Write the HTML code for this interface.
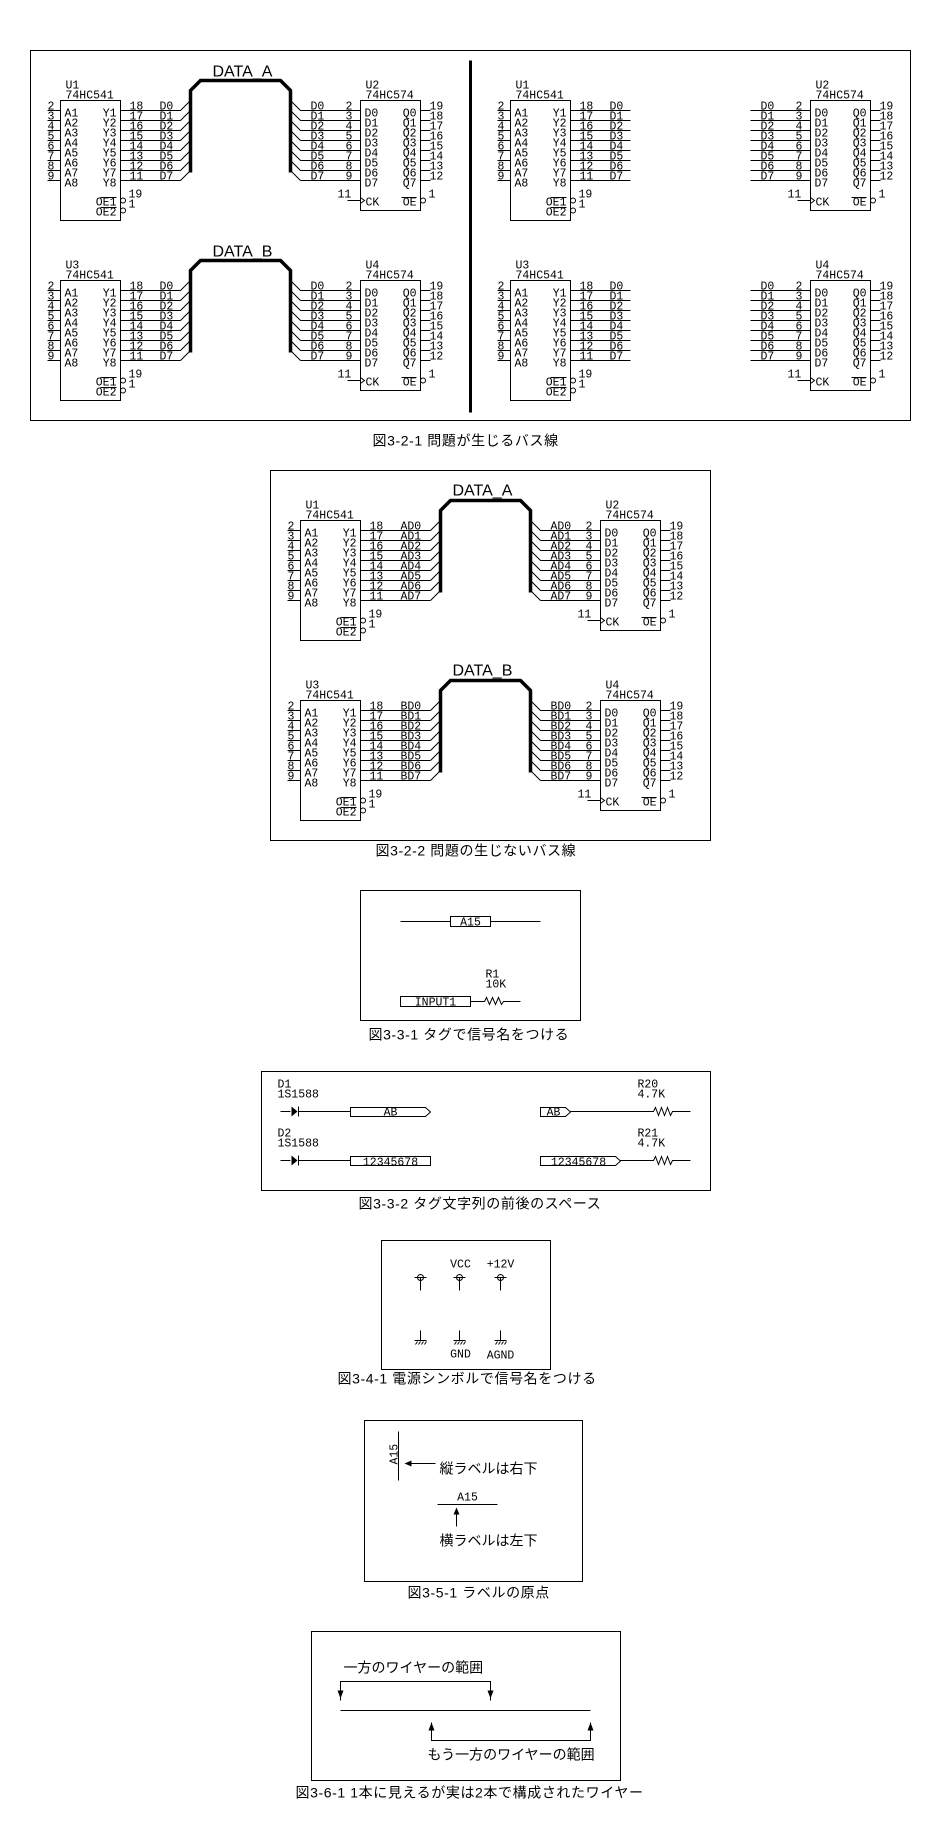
<!DOCTYPE html>
<html><head><meta charset="utf-8"><style>
html,body{margin:0;padding:0;background:#fff}
svg{display:block}
svg text{font-family:"Liberation Mono",monospace;font-size:11.5px;fill:#000;stroke:none}
.s{fill:none;stroke:#000;stroke-width:1}
.b{fill:none;stroke:#000;stroke-width:3.5}
.f{fill:#000;stroke:none}
.e{text-anchor:end}
.m{text-anchor:middle}
svg text.big{font-family:"Liberation Sans",sans-serif;font-size:16px}
svg text.cap{font-family:"Liberation Sans","Noto Sans CJK JP",sans-serif;font-size:14px;letter-spacing:0.6px}
svg text.jp{font-family:"Liberation Sans","Noto Sans CJK JP",sans-serif;font-size:14px}
</style></head><body>
<svg width="940" height="1838" viewBox="0 0 940 1838" xmlns="http://www.w3.org/2000/svg">
<g transform="translate(0.5,0.5)">

<!-- ============ FIG 3-2-1 ============ -->
<rect class="s" x="30" y="50" width="880" height="370"/>
<path d="M470 60V412" stroke="#000" stroke-width="3"/>
<text class="big" x="212" y="76">DATA_A</text>
<text class="big" x="212" y="256">DATA_B</text>
<path class="b" d="M190 172V90L200 80H280L290 90V172"/>
<path class="b" d="M190 352V270L200 260H280L290 270V352"/>

<g transform="translate(60,100)">
<rect class="s" x="0" y="0" width="60" height="120"/>
<text x="5" y="-12">U1</text><text x="5" y="-2">74HC541</text>
<path class="s" d="M-13 10H0M-13 20H0M-13 30H0M-13 40H0M-13 50H0M-13 60H0M-13 70H0M-13 80H0"/>
<text x="-13" y="9">2</text><text x="-13" y="19">3</text><text x="-13" y="29">4</text><text x="-13" y="39">5</text><text x="-13" y="49">6</text><text x="-13" y="59">7</text><text x="-13" y="69">8</text><text x="-13" y="79">9</text>
<text x="4" y="16">A1</text><text x="4" y="26">A2</text><text x="4" y="36">A3</text><text x="4" y="46">A4</text><text x="4" y="56">A5</text><text x="4" y="66">A6</text><text x="4" y="76">A7</text><text x="4" y="86">A8</text>
<g class="e"><text x="56" y="16">Y1</text><text x="56" y="26">Y2</text><text x="56" y="36">Y3</text><text x="56" y="46">Y4</text><text x="56" y="56">Y5</text><text x="56" y="66">Y6</text><text x="56" y="76">Y7</text><text x="56" y="86">Y8</text><text x="56" y="105">OE1</text><text x="56" y="115">OE2</text></g>
<path class="s" d="M40 97H56M40 107H56"/>
<circle class="s" cx="62.5" cy="100" r="2.5"/><circle class="s" cx="62.5" cy="110" r="2.5"/>
<text x="68" y="97">19</text><text x="68" y="107">1</text>
<path class="s" d="M60 10H120M60 20H120M60 30H120M60 40H120M60 50H120M60 60H120M60 70H120M60 80H120"/>
<path class="s" d="M120 10L130 0M120 20L130 10M120 30L130 20M120 40L130 30M120 50L130 40M120 60L130 50M120 70L130 60M120 80L130 70"/>
<text x="69" y="9">18</text><text x="69" y="19">17</text><text x="69" y="29">16</text><text x="69" y="39">15</text><text x="69" y="49">14</text><text x="69" y="59">13</text><text x="69" y="69">12</text><text x="69" y="79">11</text>
<text x="99" y="9">D0</text><text x="99" y="19">D1</text><text x="99" y="29">D2</text><text x="99" y="39">D3</text><text x="99" y="49">D4</text><text x="99" y="59">D5</text><text x="99" y="69">D6</text><text x="99" y="79">D7</text>
</g>
<g transform="translate(60,280)">
<rect class="s" x="0" y="0" width="60" height="120"/>
<text x="5" y="-12">U3</text><text x="5" y="-2">74HC541</text>
<path class="s" d="M-13 10H0M-13 20H0M-13 30H0M-13 40H0M-13 50H0M-13 60H0M-13 70H0M-13 80H0"/>
<text x="-13" y="9">2</text><text x="-13" y="19">3</text><text x="-13" y="29">4</text><text x="-13" y="39">5</text><text x="-13" y="49">6</text><text x="-13" y="59">7</text><text x="-13" y="69">8</text><text x="-13" y="79">9</text>
<text x="4" y="16">A1</text><text x="4" y="26">A2</text><text x="4" y="36">A3</text><text x="4" y="46">A4</text><text x="4" y="56">A5</text><text x="4" y="66">A6</text><text x="4" y="76">A7</text><text x="4" y="86">A8</text>
<g class="e"><text x="56" y="16">Y1</text><text x="56" y="26">Y2</text><text x="56" y="36">Y3</text><text x="56" y="46">Y4</text><text x="56" y="56">Y5</text><text x="56" y="66">Y6</text><text x="56" y="76">Y7</text><text x="56" y="86">Y8</text><text x="56" y="105">OE1</text><text x="56" y="115">OE2</text></g>
<path class="s" d="M40 97H56M40 107H56"/>
<circle class="s" cx="62.5" cy="100" r="2.5"/><circle class="s" cx="62.5" cy="110" r="2.5"/>
<text x="68" y="97">19</text><text x="68" y="107">1</text>
<path class="s" d="M60 10H120M60 20H120M60 30H120M60 40H120M60 50H120M60 60H120M60 70H120M60 80H120"/>
<path class="s" d="M120 10L130 0M120 20L130 10M120 30L130 20M120 40L130 30M120 50L130 40M120 60L130 50M120 70L130 60M120 80L130 70"/>
<text x="69" y="9">18</text><text x="69" y="19">17</text><text x="69" y="29">16</text><text x="69" y="39">15</text><text x="69" y="49">14</text><text x="69" y="59">13</text><text x="69" y="69">12</text><text x="69" y="79">11</text>
<text x="99" y="9">D0</text><text x="99" y="19">D1</text><text x="99" y="29">D2</text><text x="99" y="39">D3</text><text x="99" y="49">D4</text><text x="99" y="59">D5</text><text x="99" y="69">D6</text><text x="99" y="79">D7</text>
</g>
<g transform="translate(360,100)">
<rect class="s" x="0" y="0" width="60" height="110"/>
<text x="5" y="-12">U2</text><text x="5" y="-2">74HC574</text>
<path class="s" d="M-60 10H0M-60 20H0M-60 30H0M-60 40H0M-60 50H0M-60 60H0M-60 70H0M-60 80H0"/>
<path class="s" d="M-70 0L-60 10M-70 10L-60 20M-70 20L-60 30M-70 30L-60 40M-70 40L-60 50M-70 50L-60 60M-70 60L-60 70M-70 70L-60 80"/>
<text x="-50" y="9">D0</text><text x="-50" y="19">D1</text><text x="-50" y="29">D2</text><text x="-50" y="39">D3</text><text x="-50" y="49">D4</text><text x="-50" y="59">D5</text><text x="-50" y="69">D6</text><text x="-50" y="79">D7</text>
<text x="-15" y="9">2</text><text x="-15" y="19">3</text><text x="-15" y="29">4</text><text x="-15" y="39">5</text><text x="-15" y="49">6</text><text x="-15" y="59">7</text><text x="-15" y="69">8</text><text x="-15" y="79">9</text>
<text x="4" y="16">D0</text><text x="4" y="26">D1</text><text x="4" y="36">D2</text><text x="4" y="46">D3</text><text x="4" y="56">D4</text><text x="4" y="66">D5</text><text x="4" y="76">D6</text><text x="4" y="86">D7</text>
<g class="e"><text x="56" y="16">Q0</text><text x="56" y="26">Q1</text><text x="56" y="36">Q2</text><text x="56" y="46">Q3</text><text x="56" y="56">Q4</text><text x="56" y="66">Q5</text><text x="56" y="76">Q6</text><text x="56" y="86">Q7</text><text x="56" y="105">OE</text></g>
<path class="s" d="M60 10H70M60 20H70M60 30H70M60 40H70M60 50H70M60 60H70M60 70H70M60 80H70M41 97H56M-13 100H0M0 97L4 100L0 103"/>
<text x="69" y="9">19</text><text x="69" y="19">18</text><text x="69" y="29">17</text><text x="69" y="39">16</text><text x="69" y="49">15</text><text x="69" y="59">14</text><text x="69" y="69">13</text><text x="69" y="79">12</text>
<text x="5" y="105">CK</text><text x="-23" y="97">11</text>
<circle class="s" cx="62.5" cy="100" r="2.5"/><text x="68" y="97">1</text>
</g>
<g transform="translate(360,280)">
<rect class="s" x="0" y="0" width="60" height="110"/>
<text x="5" y="-12">U4</text><text x="5" y="-2">74HC574</text>
<path class="s" d="M-60 10H0M-60 20H0M-60 30H0M-60 40H0M-60 50H0M-60 60H0M-60 70H0M-60 80H0"/>
<path class="s" d="M-70 0L-60 10M-70 10L-60 20M-70 20L-60 30M-70 30L-60 40M-70 40L-60 50M-70 50L-60 60M-70 60L-60 70M-70 70L-60 80"/>
<text x="-50" y="9">D0</text><text x="-50" y="19">D1</text><text x="-50" y="29">D2</text><text x="-50" y="39">D3</text><text x="-50" y="49">D4</text><text x="-50" y="59">D5</text><text x="-50" y="69">D6</text><text x="-50" y="79">D7</text>
<text x="-15" y="9">2</text><text x="-15" y="19">3</text><text x="-15" y="29">4</text><text x="-15" y="39">5</text><text x="-15" y="49">6</text><text x="-15" y="59">7</text><text x="-15" y="69">8</text><text x="-15" y="79">9</text>
<text x="4" y="16">D0</text><text x="4" y="26">D1</text><text x="4" y="36">D2</text><text x="4" y="46">D3</text><text x="4" y="56">D4</text><text x="4" y="66">D5</text><text x="4" y="76">D6</text><text x="4" y="86">D7</text>
<g class="e"><text x="56" y="16">Q0</text><text x="56" y="26">Q1</text><text x="56" y="36">Q2</text><text x="56" y="46">Q3</text><text x="56" y="56">Q4</text><text x="56" y="66">Q5</text><text x="56" y="76">Q6</text><text x="56" y="86">Q7</text><text x="56" y="105">OE</text></g>
<path class="s" d="M60 10H70M60 20H70M60 30H70M60 40H70M60 50H70M60 60H70M60 70H70M60 80H70M41 97H56M-13 100H0M0 97L4 100L0 103"/>
<text x="69" y="9">19</text><text x="69" y="19">18</text><text x="69" y="29">17</text><text x="69" y="39">16</text><text x="69" y="49">15</text><text x="69" y="59">14</text><text x="69" y="69">13</text><text x="69" y="79">12</text>
<text x="5" y="105">CK</text><text x="-23" y="97">11</text>
<circle class="s" cx="62.5" cy="100" r="2.5"/><text x="68" y="97">1</text>
</g>

<g transform="translate(510,100)">
<rect class="s" x="0" y="0" width="60" height="120"/>
<text x="5" y="-12">U1</text><text x="5" y="-2">74HC541</text>
<path class="s" d="M-13 10H0M-13 20H0M-13 30H0M-13 40H0M-13 50H0M-13 60H0M-13 70H0M-13 80H0"/>
<text x="-13" y="9">2</text><text x="-13" y="19">3</text><text x="-13" y="29">4</text><text x="-13" y="39">5</text><text x="-13" y="49">6</text><text x="-13" y="59">7</text><text x="-13" y="69">8</text><text x="-13" y="79">9</text>
<text x="4" y="16">A1</text><text x="4" y="26">A2</text><text x="4" y="36">A3</text><text x="4" y="46">A4</text><text x="4" y="56">A5</text><text x="4" y="66">A6</text><text x="4" y="76">A7</text><text x="4" y="86">A8</text>
<g class="e"><text x="56" y="16">Y1</text><text x="56" y="26">Y2</text><text x="56" y="36">Y3</text><text x="56" y="46">Y4</text><text x="56" y="56">Y5</text><text x="56" y="66">Y6</text><text x="56" y="76">Y7</text><text x="56" y="86">Y8</text><text x="56" y="105">OE1</text><text x="56" y="115">OE2</text></g>
<path class="s" d="M40 97H56M40 107H56"/>
<circle class="s" cx="62.5" cy="100" r="2.5"/><circle class="s" cx="62.5" cy="110" r="2.5"/>
<text x="68" y="97">19</text><text x="68" y="107">1</text>
<path class="s" d="M60 10H120M60 20H120M60 30H120M60 40H120M60 50H120M60 60H120M60 70H120M60 80H120"/>
<text x="69" y="9">18</text><text x="69" y="19">17</text><text x="69" y="29">16</text><text x="69" y="39">15</text><text x="69" y="49">14</text><text x="69" y="59">13</text><text x="69" y="69">12</text><text x="69" y="79">11</text>
<text x="99" y="9">D0</text><text x="99" y="19">D1</text><text x="99" y="29">D2</text><text x="99" y="39">D3</text><text x="99" y="49">D4</text><text x="99" y="59">D5</text><text x="99" y="69">D6</text><text x="99" y="79">D7</text>
</g>
<g transform="translate(510,280)">
<rect class="s" x="0" y="0" width="60" height="120"/>
<text x="5" y="-12">U3</text><text x="5" y="-2">74HC541</text>
<path class="s" d="M-13 10H0M-13 20H0M-13 30H0M-13 40H0M-13 50H0M-13 60H0M-13 70H0M-13 80H0"/>
<text x="-13" y="9">2</text><text x="-13" y="19">3</text><text x="-13" y="29">4</text><text x="-13" y="39">5</text><text x="-13" y="49">6</text><text x="-13" y="59">7</text><text x="-13" y="69">8</text><text x="-13" y="79">9</text>
<text x="4" y="16">A1</text><text x="4" y="26">A2</text><text x="4" y="36">A3</text><text x="4" y="46">A4</text><text x="4" y="56">A5</text><text x="4" y="66">A6</text><text x="4" y="76">A7</text><text x="4" y="86">A8</text>
<g class="e"><text x="56" y="16">Y1</text><text x="56" y="26">Y2</text><text x="56" y="36">Y3</text><text x="56" y="46">Y4</text><text x="56" y="56">Y5</text><text x="56" y="66">Y6</text><text x="56" y="76">Y7</text><text x="56" y="86">Y8</text><text x="56" y="105">OE1</text><text x="56" y="115">OE2</text></g>
<path class="s" d="M40 97H56M40 107H56"/>
<circle class="s" cx="62.5" cy="100" r="2.5"/><circle class="s" cx="62.5" cy="110" r="2.5"/>
<text x="68" y="97">19</text><text x="68" y="107">1</text>
<path class="s" d="M60 10H120M60 20H120M60 30H120M60 40H120M60 50H120M60 60H120M60 70H120M60 80H120"/>
<text x="69" y="9">18</text><text x="69" y="19">17</text><text x="69" y="29">16</text><text x="69" y="39">15</text><text x="69" y="49">14</text><text x="69" y="59">13</text><text x="69" y="69">12</text><text x="69" y="79">11</text>
<text x="99" y="9">D0</text><text x="99" y="19">D1</text><text x="99" y="29">D2</text><text x="99" y="39">D3</text><text x="99" y="49">D4</text><text x="99" y="59">D5</text><text x="99" y="69">D6</text><text x="99" y="79">D7</text>
</g>
<g transform="translate(810,100)">
<rect class="s" x="0" y="0" width="60" height="110"/>
<text x="5" y="-12">U2</text><text x="5" y="-2">74HC574</text>
<path class="s" d="M-60 10H0M-60 20H0M-60 30H0M-60 40H0M-60 50H0M-60 60H0M-60 70H0M-60 80H0"/>
<text x="-50" y="9">D0</text><text x="-50" y="19">D1</text><text x="-50" y="29">D2</text><text x="-50" y="39">D3</text><text x="-50" y="49">D4</text><text x="-50" y="59">D5</text><text x="-50" y="69">D6</text><text x="-50" y="79">D7</text>
<text x="-15" y="9">2</text><text x="-15" y="19">3</text><text x="-15" y="29">4</text><text x="-15" y="39">5</text><text x="-15" y="49">6</text><text x="-15" y="59">7</text><text x="-15" y="69">8</text><text x="-15" y="79">9</text>
<text x="4" y="16">D0</text><text x="4" y="26">D1</text><text x="4" y="36">D2</text><text x="4" y="46">D3</text><text x="4" y="56">D4</text><text x="4" y="66">D5</text><text x="4" y="76">D6</text><text x="4" y="86">D7</text>
<g class="e"><text x="56" y="16">Q0</text><text x="56" y="26">Q1</text><text x="56" y="36">Q2</text><text x="56" y="46">Q3</text><text x="56" y="56">Q4</text><text x="56" y="66">Q5</text><text x="56" y="76">Q6</text><text x="56" y="86">Q7</text><text x="56" y="105">OE</text></g>
<path class="s" d="M60 10H70M60 20H70M60 30H70M60 40H70M60 50H70M60 60H70M60 70H70M60 80H70M41 97H56M-13 100H0M0 97L4 100L0 103"/>
<text x="69" y="9">19</text><text x="69" y="19">18</text><text x="69" y="29">17</text><text x="69" y="39">16</text><text x="69" y="49">15</text><text x="69" y="59">14</text><text x="69" y="69">13</text><text x="69" y="79">12</text>
<text x="5" y="105">CK</text><text x="-23" y="97">11</text>
<circle class="s" cx="62.5" cy="100" r="2.5"/><text x="68" y="97">1</text>
</g>
<g transform="translate(810,280)">
<rect class="s" x="0" y="0" width="60" height="110"/>
<text x="5" y="-12">U4</text><text x="5" y="-2">74HC574</text>
<path class="s" d="M-60 10H0M-60 20H0M-60 30H0M-60 40H0M-60 50H0M-60 60H0M-60 70H0M-60 80H0"/>
<text x="-50" y="9">D0</text><text x="-50" y="19">D1</text><text x="-50" y="29">D2</text><text x="-50" y="39">D3</text><text x="-50" y="49">D4</text><text x="-50" y="59">D5</text><text x="-50" y="69">D6</text><text x="-50" y="79">D7</text>
<text x="-15" y="9">2</text><text x="-15" y="19">3</text><text x="-15" y="29">4</text><text x="-15" y="39">5</text><text x="-15" y="49">6</text><text x="-15" y="59">7</text><text x="-15" y="69">8</text><text x="-15" y="79">9</text>
<text x="4" y="16">D0</text><text x="4" y="26">D1</text><text x="4" y="36">D2</text><text x="4" y="46">D3</text><text x="4" y="56">D4</text><text x="4" y="66">D5</text><text x="4" y="76">D6</text><text x="4" y="86">D7</text>
<g class="e"><text x="56" y="16">Q0</text><text x="56" y="26">Q1</text><text x="56" y="36">Q2</text><text x="56" y="46">Q3</text><text x="56" y="56">Q4</text><text x="56" y="66">Q5</text><text x="56" y="76">Q6</text><text x="56" y="86">Q7</text><text x="56" y="105">OE</text></g>
<path class="s" d="M60 10H70M60 20H70M60 30H70M60 40H70M60 50H70M60 60H70M60 70H70M60 80H70M41 97H56M-13 100H0M0 97L4 100L0 103"/>
<text x="69" y="9">19</text><text x="69" y="19">18</text><text x="69" y="29">17</text><text x="69" y="39">16</text><text x="69" y="49">15</text><text x="69" y="59">14</text><text x="69" y="69">13</text><text x="69" y="79">12</text>
<text x="5" y="105">CK</text><text x="-23" y="97">11</text>
<circle class="s" cx="62.5" cy="100" r="2.5"/><text x="68" y="97">1</text>
</g>
<text class="cap" x="372" y="445">図3-2-1 問題が生じるバス線</text>

<!-- ============ FIG 3-2-2 ============ -->
<rect class="s" x="270" y="470" width="440" height="370"/>
<text class="big" x="452" y="495">DATA_A</text>
<text class="big" x="452" y="675">DATA_B</text>
<path class="b" d="M440 592V510L450 500H520L530 510V592"/>
<path class="b" d="M440 772V690L450 680H520L530 690V772"/>
<g transform="translate(300,520)">
<rect class="s" x="0" y="0" width="60" height="120"/>
<text x="5" y="-12">U1</text><text x="5" y="-2">74HC541</text>
<path class="s" d="M-13 10H0M-13 20H0M-13 30H0M-13 40H0M-13 50H0M-13 60H0M-13 70H0M-13 80H0"/>
<text x="-13" y="9">2</text><text x="-13" y="19">3</text><text x="-13" y="29">4</text><text x="-13" y="39">5</text><text x="-13" y="49">6</text><text x="-13" y="59">7</text><text x="-13" y="69">8</text><text x="-13" y="79">9</text>
<text x="4" y="16">A1</text><text x="4" y="26">A2</text><text x="4" y="36">A3</text><text x="4" y="46">A4</text><text x="4" y="56">A5</text><text x="4" y="66">A6</text><text x="4" y="76">A7</text><text x="4" y="86">A8</text>
<g class="e"><text x="56" y="16">Y1</text><text x="56" y="26">Y2</text><text x="56" y="36">Y3</text><text x="56" y="46">Y4</text><text x="56" y="56">Y5</text><text x="56" y="66">Y6</text><text x="56" y="76">Y7</text><text x="56" y="86">Y8</text><text x="56" y="105">OE1</text><text x="56" y="115">OE2</text></g>
<path class="s" d="M40 97H56M40 107H56"/>
<circle class="s" cx="62.5" cy="100" r="2.5"/><circle class="s" cx="62.5" cy="110" r="2.5"/>
<text x="68" y="97">19</text><text x="68" y="107">1</text>
<path class="s" d="M60 10H130M60 20H130M60 30H130M60 40H130M60 50H130M60 60H130M60 70H130M60 80H130"/>
<path class="s" d="M130 10L140 0M130 20L140 10M130 30L140 20M130 40L140 30M130 50L140 40M130 60L140 50M130 70L140 60M130 80L140 70"/>
<text x="69" y="9">18</text><text x="69" y="19">17</text><text x="69" y="29">16</text><text x="69" y="39">15</text><text x="69" y="49">14</text><text x="69" y="59">13</text><text x="69" y="69">12</text><text x="69" y="79">11</text>
<text x="100" y="9">AD0</text><text x="100" y="19">AD1</text><text x="100" y="29">AD2</text><text x="100" y="39">AD3</text><text x="100" y="49">AD4</text><text x="100" y="59">AD5</text><text x="100" y="69">AD6</text><text x="100" y="79">AD7</text>
</g>
<g transform="translate(300,700)">
<rect class="s" x="0" y="0" width="60" height="120"/>
<text x="5" y="-12">U3</text><text x="5" y="-2">74HC541</text>
<path class="s" d="M-13 10H0M-13 20H0M-13 30H0M-13 40H0M-13 50H0M-13 60H0M-13 70H0M-13 80H0"/>
<text x="-13" y="9">2</text><text x="-13" y="19">3</text><text x="-13" y="29">4</text><text x="-13" y="39">5</text><text x="-13" y="49">6</text><text x="-13" y="59">7</text><text x="-13" y="69">8</text><text x="-13" y="79">9</text>
<text x="4" y="16">A1</text><text x="4" y="26">A2</text><text x="4" y="36">A3</text><text x="4" y="46">A4</text><text x="4" y="56">A5</text><text x="4" y="66">A6</text><text x="4" y="76">A7</text><text x="4" y="86">A8</text>
<g class="e"><text x="56" y="16">Y1</text><text x="56" y="26">Y2</text><text x="56" y="36">Y3</text><text x="56" y="46">Y4</text><text x="56" y="56">Y5</text><text x="56" y="66">Y6</text><text x="56" y="76">Y7</text><text x="56" y="86">Y8</text><text x="56" y="105">OE1</text><text x="56" y="115">OE2</text></g>
<path class="s" d="M40 97H56M40 107H56"/>
<circle class="s" cx="62.5" cy="100" r="2.5"/><circle class="s" cx="62.5" cy="110" r="2.5"/>
<text x="68" y="97">19</text><text x="68" y="107">1</text>
<path class="s" d="M60 10H130M60 20H130M60 30H130M60 40H130M60 50H130M60 60H130M60 70H130M60 80H130"/>
<path class="s" d="M130 10L140 0M130 20L140 10M130 30L140 20M130 40L140 30M130 50L140 40M130 60L140 50M130 70L140 60M130 80L140 70"/>
<text x="69" y="9">18</text><text x="69" y="19">17</text><text x="69" y="29">16</text><text x="69" y="39">15</text><text x="69" y="49">14</text><text x="69" y="59">13</text><text x="69" y="69">12</text><text x="69" y="79">11</text>
<text x="100" y="9">BD0</text><text x="100" y="19">BD1</text><text x="100" y="29">BD2</text><text x="100" y="39">BD3</text><text x="100" y="49">BD4</text><text x="100" y="59">BD5</text><text x="100" y="69">BD6</text><text x="100" y="79">BD7</text>
</g>
<g transform="translate(600,520)">
<rect class="s" x="0" y="0" width="60" height="110"/>
<text x="5" y="-12">U2</text><text x="5" y="-2">74HC574</text>
<path class="s" d="M-60 10H0M-60 20H0M-60 30H0M-60 40H0M-60 50H0M-60 60H0M-60 70H0M-60 80H0"/>
<path class="s" d="M-70 0L-60 10M-70 10L-60 20M-70 20L-60 30M-70 30L-60 40M-70 40L-60 50M-70 50L-60 60M-70 60L-60 70M-70 70L-60 80"/>
<text x="-50" y="9">AD0</text><text x="-50" y="19">AD1</text><text x="-50" y="29">AD2</text><text x="-50" y="39">AD3</text><text x="-50" y="49">AD4</text><text x="-50" y="59">AD5</text><text x="-50" y="69">AD6</text><text x="-50" y="79">AD7</text>
<text x="-15" y="9">2</text><text x="-15" y="19">3</text><text x="-15" y="29">4</text><text x="-15" y="39">5</text><text x="-15" y="49">6</text><text x="-15" y="59">7</text><text x="-15" y="69">8</text><text x="-15" y="79">9</text>
<text x="4" y="16">D0</text><text x="4" y="26">D1</text><text x="4" y="36">D2</text><text x="4" y="46">D3</text><text x="4" y="56">D4</text><text x="4" y="66">D5</text><text x="4" y="76">D6</text><text x="4" y="86">D7</text>
<g class="e"><text x="56" y="16">Q0</text><text x="56" y="26">Q1</text><text x="56" y="36">Q2</text><text x="56" y="46">Q3</text><text x="56" y="56">Q4</text><text x="56" y="66">Q5</text><text x="56" y="76">Q6</text><text x="56" y="86">Q7</text><text x="56" y="105">OE</text></g>
<path class="s" d="M60 10H70M60 20H70M60 30H70M60 40H70M60 50H70M60 60H70M60 70H70M60 80H70M41 97H56M-13 100H0M0 97L4 100L0 103"/>
<text x="69" y="9">19</text><text x="69" y="19">18</text><text x="69" y="29">17</text><text x="69" y="39">16</text><text x="69" y="49">15</text><text x="69" y="59">14</text><text x="69" y="69">13</text><text x="69" y="79">12</text>
<text x="5" y="105">CK</text><text x="-23" y="97">11</text>
<circle class="s" cx="62.5" cy="100" r="2.5"/><text x="68" y="97">1</text>
</g>
<g transform="translate(600,700)">
<rect class="s" x="0" y="0" width="60" height="110"/>
<text x="5" y="-12">U4</text><text x="5" y="-2">74HC574</text>
<path class="s" d="M-60 10H0M-60 20H0M-60 30H0M-60 40H0M-60 50H0M-60 60H0M-60 70H0M-60 80H0"/>
<path class="s" d="M-70 0L-60 10M-70 10L-60 20M-70 20L-60 30M-70 30L-60 40M-70 40L-60 50M-70 50L-60 60M-70 60L-60 70M-70 70L-60 80"/>
<text x="-50" y="9">BD0</text><text x="-50" y="19">BD1</text><text x="-50" y="29">BD2</text><text x="-50" y="39">BD3</text><text x="-50" y="49">BD4</text><text x="-50" y="59">BD5</text><text x="-50" y="69">BD6</text><text x="-50" y="79">BD7</text>
<text x="-15" y="9">2</text><text x="-15" y="19">3</text><text x="-15" y="29">4</text><text x="-15" y="39">5</text><text x="-15" y="49">6</text><text x="-15" y="59">7</text><text x="-15" y="69">8</text><text x="-15" y="79">9</text>
<text x="4" y="16">D0</text><text x="4" y="26">D1</text><text x="4" y="36">D2</text><text x="4" y="46">D3</text><text x="4" y="56">D4</text><text x="4" y="66">D5</text><text x="4" y="76">D6</text><text x="4" y="86">D7</text>
<g class="e"><text x="56" y="16">Q0</text><text x="56" y="26">Q1</text><text x="56" y="36">Q2</text><text x="56" y="46">Q3</text><text x="56" y="56">Q4</text><text x="56" y="66">Q5</text><text x="56" y="76">Q6</text><text x="56" y="86">Q7</text><text x="56" y="105">OE</text></g>
<path class="s" d="M60 10H70M60 20H70M60 30H70M60 40H70M60 50H70M60 60H70M60 70H70M60 80H70M41 97H56M-13 100H0M0 97L4 100L0 103"/>
<text x="69" y="9">19</text><text x="69" y="19">18</text><text x="69" y="29">17</text><text x="69" y="39">16</text><text x="69" y="49">15</text><text x="69" y="59">14</text><text x="69" y="69">13</text><text x="69" y="79">12</text>
<text x="5" y="105">CK</text><text x="-23" y="97">11</text>
<circle class="s" cx="62.5" cy="100" r="2.5"/><text x="68" y="97">1</text>
</g>
<text class="cap" x="375" y="855">図3-2-2 問題の生じないバス線</text>

<!-- ============ FIG 3-3-1 ============ -->
<rect class="s" x="360" y="890" width="220" height="130"/>
<path class="s" d="M400 921H450M490 921H540"/>
<rect class="s" x="450" y="916" width="40" height="10"/>
<text class="m" x="470" y="925">A15</text>
<text x="485" y="977">R1</text><text x="485" y="987">10K</text>
<rect class="s" x="400" y="996" width="70" height="10"/>
<text class="m" x="435" y="1005">INPUT1</text>
<path class="s" d="M470 1001H484L486 997L489 1004L492 997L495 1004L498 997L501 1004L503 1001H520"/>
<text class="cap" x="368" y="1039">図3-3-1 タグで信号名をつける</text>

<!-- ============ FIG 3-3-2 ============ -->
<rect class="s" x="261" y="1071" width="449" height="119"/>
<text x="277" y="1087">D1</text><text x="277" y="1097">1S1588</text>
<path class="s" d="M280 1111H290M298 1111H350M298 1106V1116"/>
<path class="f" d="M291 1106L297 1111L291 1116Z"/>
<path class="s" d="M350 1107H425L430 1111.5L425 1116H350Z"/>
<text class="m" x="390" y="1115">AB</text>
<text x="277" y="1136">D2</text><text x="277" y="1146">1S1588</text>
<path class="s" d="M280 1160H290M298 1160H350M298 1155V1165"/>
<path class="f" d="M291 1155L297 1160L291 1165Z"/>
<rect class="s" x="350" y="1156" width="80" height="9"/>
<text class="m" x="390" y="1165">12345678</text>
<text x="637" y="1087">R20</text><text x="637" y="1097">4.7K</text>
<path class="s" d="M540 1107H565L570 1111.5L565 1116H540Z"/>
<text class="m" x="553" y="1115">AB</text>
<path class="s" d="M570 1111H653L655 1107L658 1115L661 1107L664 1115L667 1107L670 1115L672 1111H690"/>
<text x="637" y="1136">R21</text><text x="637" y="1146">4.7K</text>
<path class="s" d="M540 1156H615L620 1160.5L615 1165H540Z"/>
<text class="m" x="578" y="1165">12345678</text>
<path class="s" d="M620 1160H653L655 1156L658 1164L661 1156L664 1164L667 1156L670 1164L672 1160H690"/>
<text class="cap" x="358" y="1208">図3-3-2 タグ文字列の前後のスペース</text>

<!-- ============ FIG 3-4-1 ============ -->
<rect class="s" x="381" y="1240" width="169" height="129"/>
<text class="m" x="460" y="1267">VCC</text><text class="m" x="500" y="1267">+12V</text>
<circle class="s" cx="420" cy="1277" r="3"/><circle class="s" cx="459" cy="1277" r="3"/><circle class="s" cx="500" cy="1277" r="3"/>
<path class="s" d="M414 1277H426M420 1277V1290M453 1277H465M459 1277V1290M494 1277H506M500 1277V1290"/>
<path class="s" d="M420 1330V1340M414 1340H426M415 1344L417 1341M418 1344L420 1341M421 1344L423 1341M424 1344L426 1341"/>
<path class="s" d="M459 1330V1340M453 1340H465M454 1344L456 1341M457 1344L459 1341M460 1344L462 1341M463 1344L465 1341"/>
<path class="s" d="M500 1330V1340M494 1340H506M495 1344L497 1341M498 1344L500 1341M501 1344L503 1341M504 1344L506 1341"/>
<text class="m" x="460" y="1357">GND</text><text class="m" x="500" y="1358">AGND</text>
<text class="cap" x="337" y="1383">図3-4-1 電源シンボルで信号名をつける</text>

<!-- ============ FIG 3-5-1 ============ -->
<rect class="s" x="364" y="1420" width="218" height="161"/>
<path class="s" d="M398 1431V1480M405 1463H435M437 1504H497M456 1510V1526"/>
<text transform="translate(397,1464) rotate(-90)">A15</text>
<path class="f" d="M404 1463L411 1460V1466Z"/>
<path class="f" d="M456 1507L453 1514H459Z"/>
<text class="m" x="467" y="1500">A15</text>
<text class="jp" x="439" y="1473">縦ラベルは右下</text>
<text class="jp" x="439" y="1545">横ラベルは左下</text>
<text class="cap" x="407" y="1597">図3-5-1 ラベルの原点</text>

<!-- ============ FIG 3-6-1 ============ -->
<rect class="s" x="311" y="1631" width="309" height="149"/>
<text class="jp" x="343" y="1672">一方のワイヤーの範囲</text>
<path class="s" d="M340 1700V1681H490V1700M340 1710H590M431 1722V1740H590V1722"/>
<path class="f" d="M337 1690H343L340 1698Z"/>
<path class="f" d="M487 1690H493L490 1698Z"/>
<path class="f" d="M428 1730H434L431 1722Z"/>
<path class="f" d="M587 1730H593L590 1722Z"/>
<text class="jp" x="427" y="1759">もう一方のワイヤーの範囲</text>
<text class="cap" x="295" y="1797">図3-6-1 1本に見えるが実は2本で構成されたワイヤー</text>

</g>
</svg>
</body></html>
